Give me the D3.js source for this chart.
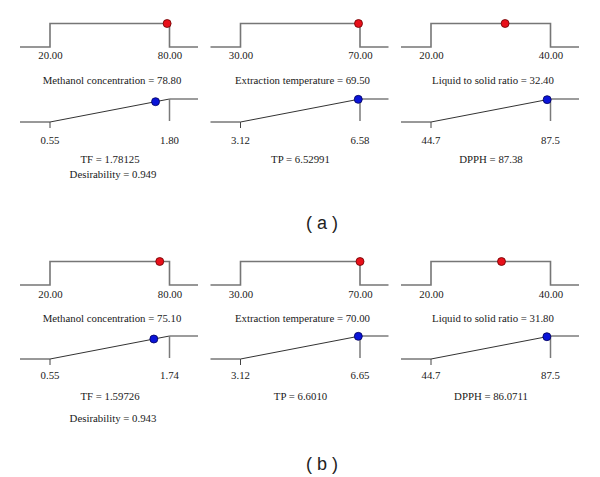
<!DOCTYPE html>
<html>
<head>
<meta charset="utf-8">
<script src="https://cdn.jsdelivr.net/npm/d3@7"></script>
<style>
  body { margin: 0; background: #fff; }
  svg { display: block; }
</style>
</head>
<body>
<div id="chart-area"></div>
<script>
// factors (top row of each panel)
const factorNames = ["Methanol concentration", "Extraction temperature", "Liquid to solid ratio"];
const factorLow = [20, 30, 20];
const factorHigh = [80, 70, 40];
const factorTickLabels = [["20.00", "80.00"], ["30.00", "70.00"], ["20.00", "40.00"]];
const factorValuesA = [78.80, 69.50, 32.40];
const factorValuesB = [75.10, 70.00, 31.80];
const factorTextA = ["78.80", "69.50", "32.40"];
const factorTextB = ["75.10", "70.00", "31.80"];

// responses (second row)
const responseNames = ["TF", "TP", "DPPH"];
const responseLowA = [0.55, 3.12, 44.7];
const responseHighA = [1.80, 6.58, 87.5];
const responseLowB = [0.55, 3.12, 44.7];
const responseHighB = [1.74, 6.65, 87.5];
const responseTicksA = [["0.55", "1.80"], ["3.12", "6.58"], ["44.7", "87.5"]];
const responseTicksB = [["0.55", "1.74"], ["3.12", "6.65"], ["44.7", "87.5"]];
const responseTextA = ["1.78125", "6.52991", "87.38"];
const responseTextB = ["1.59726", "6.6010", "86.0711"];
// where the marker sits on each ramp
const responseDotA = [1.654, 6.53, 86.3];
const responseDotB = [1.584, 6.60, 86.2];

const desirability = ["0.949", "0.943"];
const panelTags = ["( a )", "( b )"];

const W = 600, H = 477;
const serif = "'Liberation Serif', 'DejaVu Serif', serif";
const sans = "'Liberation Sans', 'DejaVu Sans', sans-serif";
const fs = "10.8px";

const svg = d3.select("#chart-area")
    .append("svg")
    .attr("width", W)
    .attr("height", H);

const colStep = 190.5;

function label(g, x, y, txt) {
    return g.append("text")
        .attr("x", x)
        .attr("y", y)
        .attr("text-anchor", "middle")
        .style("font-family", serif)
        .style("font-size", fs)
        .style("fill", "#1a1a1a")
        .text(txt);
}

function drawPanel(cfg) {
    const g = svg.append("g");

    for (let i = 0; i < 3; i++) {
        const x0 = 20 + colStep * i;
        const xEnd = x0 + 178;

        // ---- factor ramp
        const x = d3.scaleLinear()
            .domain([factorLow[i], factorHigh[i]])
            .range([x0 + 30, x0 + 149.5]);
        const y = d3.scaleLinear()
            .domain([0, 1])
            .range([cfg.fBase, cfg.fBase - 23.5]);

        const stepPts = [
            [x0, 0], [x(factorLow[i]), 0], [x(factorLow[i]), 1],
            [x(factorHigh[i]), 1], [x(factorHigh[i]), 0], [xEnd, 0]
        ];
        g.append("path")
            .attr("d", d3.line()(stepPts.map(p => [p[0], y(p[1])])))
            .attr("fill", "none")
            .attr("stroke", "#767676")
            .attr("stroke-width", 1.6);

        // tick labels via the axis
        g.append("g")
            .attr("transform", "translate(0," + cfg.fBase + ")")
            .call(d3.axisBottom(x)
                .tickValues([factorLow[i], factorHigh[i]])
                .tickSize(0)
                .tickPadding(0)
                .tickFormat((d, k) => factorTickLabels[i][k]))
            .call(a => a.select(".domain").remove())
            .selectAll("text")
            .attr("dy", null)
            .attr("y", cfg.fTick)
            .style("font-family", serif)
            .style("font-size", fs)
            .style("fill", "#1a1a1a");

        g.append("circle")
            .attr("cx", x(cfg.fVals[i]))
            .attr("cy", y(1))
            .attr("r", 4)
            .attr("fill", "#e8101a")
            .attr("stroke", "#6a0000")
            .attr("stroke-width", 0.8);

        label(g, x0 + 92, cfg.fBase + cfg.fTitle, factorNames[i] + " = " + cfg.fText[i]);

        // ---- response ramp
        const xr = d3.scaleLinear()
            .domain([cfg.rLow[i], cfg.rHigh[i]])
            .range([x0 + 30, x0 + 149.5]);
        const yr = d3.scaleLinear()
            .domain([0, 1])
            .range([cfg.rBase, cfg.rBase - 23]);
        const lo = xr(cfg.rLow[i]), hi = xr(cfg.rHigh[i]);

        g.append("path")
            .attr("d", d3.line()([[x0, yr(0)], [lo, yr(0)], [hi, yr(1)]]))
            .attr("fill", "none")
            .attr("stroke", "#333")
            .attr("stroke-width", 1);
        g.append("line")
            .attr("x1", hi).attr("x2", xEnd)
            .attr("y1", yr(1)).attr("y2", yr(1))
            .attr("stroke", "#5a5a5a")
            .attr("stroke-width", 1.2);
        g.append("line")
            .attr("x1", hi).attr("x2", hi)
            .attr("y1", yr(1)).attr("y2", yr(0) - 1)
            .attr("stroke", "#7a7a7a")
            .attr("stroke-width", 1.5);
        g.append("line")
            .attr("x1", lo).attr("x2", lo)
            .attr("y1", yr(0)).attr("y2", yr(0) + 6)
            .attr("stroke", "#444")
            .attr("stroke-width", 1);

        [cfg.rLow[i], cfg.rHigh[i]].forEach(function(d, k) {
            label(g, xr(d), cfg.rBase + cfg.rTick, cfg.rTicks[i][k]);
        });

        const dv = (cfg.rDot[i] - cfg.rLow[i]) / (cfg.rHigh[i] - cfg.rLow[i]);
        g.append("circle")
            .attr("cx", xr(cfg.rDot[i]))
            .attr("cy", yr(dv))
            .attr("r", 4)
            .attr("fill", "#0a14d8")
            .attr("stroke", "#00005a")
            .attr("stroke-width", 0.8);

        label(g, x0 + 90, cfg.rBase + cfg.rTitle, responseNames[i] + " = " + cfg.rText[i]);

        if (i === 0) {
            label(g, x0 + 93, cfg.rBase + cfg.dTitle, "Desirability = " + cfg.desir);
        }
    }

    g.append("text")
        .attr("x", 322)
        .attr("y", cfg.tagY)
        .attr("text-anchor", "middle")
        .style("font-family", sans)
        .style("font-size", "18px")
        .style("fill", "#222")
        .text(cfg.tag);
}

drawPanel({
    fBase: 47, fTick: 12, fTitle: 37,
    fVals: factorValuesA, fText: factorTextA,
    rBase: 122, rLow: responseLowA, rHigh: responseHighA, rTicks: responseTicksA,
    rDot: responseDotA, rText: responseTextA,
    rTick: 22, rTitle: 41, dTitle: 56, desir: desirability[0],
    tag: panelTags[0], tagY: 229
});

drawPanel({
    fBase: 285, fTick: 13, fTitle: 37,
    fVals: factorValuesB, fText: factorTextB,
    rBase: 359, rLow: responseLowB, rHigh: responseHighB, rTicks: responseTicksB,
    rDot: responseDotB, rText: responseTextB,
    rTick: 20, rTitle: 41, dTitle: 63, desir: desirability[1],
    tag: panelTags[1], tagY: 470
});
</script>
</body>
</html>
